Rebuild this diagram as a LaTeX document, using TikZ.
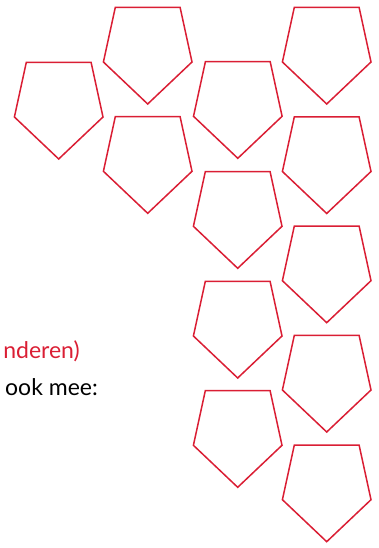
\documentclass[tikz,border=0pt]{standalone}
\usepackage{fontspec}
\setmainfont{Lato}
\definecolor{shieldred}{RGB}{218,30,52}
\tikzset{
  shield/.pic={
    \draw[shieldred, line width=1.5pt, line join=miter]
      (-32.4,96.6) -- (32.4,96.6) -- (44.3,42) -- (0,0) -- (-44.3,42) -- cycle;
  },
  lbl/.style={inner sep=0pt, font=\fontsize{23}{26}\selectfont}
}
\begin{document}
\begin{tikzpicture}[x=1pt,y=1pt]
\useasboundingbox (0,0) rectangle (379,548);
% positions given as (x, 548 - y_from_top)
\foreach \bx/\by in {147.7/104, 58.7/159, 326.7/104, 237.8/158.3, 147.7/213.3,
  326.7/213.5, 237.7/268.3, 326.7/322.7, 237.7/378, 326.7/432, 237.7/487.3, 326.7/541.7}{
  \pic at (\bx,548-\by) {shield};
}
\node[lbl, anchor=base east, text=shieldred] (red) at (80,548-359) {nderen)};
\node[lbl, anchor=base west] (blk) at (5,548-395.7) {ook mee:};
\end{tikzpicture}
\end{document}
